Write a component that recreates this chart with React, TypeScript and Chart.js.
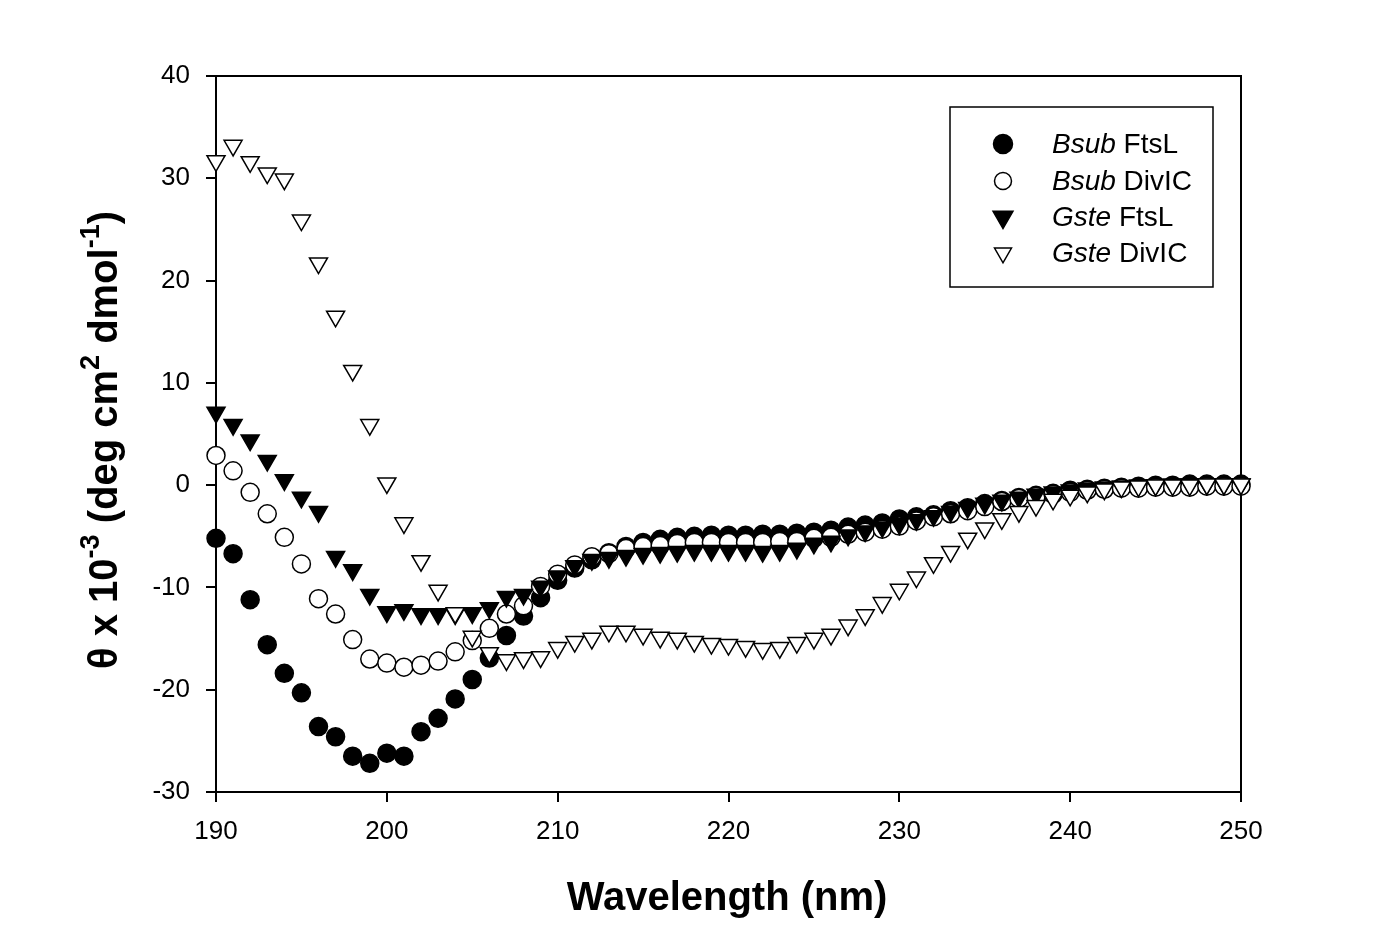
import { useEffect, useRef } from 'react';
import { Chart, registerables } from 'chart.js';

Chart.register(...registerables);

const FONT = '"Liberation Sans", Arial, sans-serif';

// wavelength (nm)
const wavelength = [
  190, 191, 192, 193, 194, 195, 196, 197, 198, 199,
  200, 201, 202, 203, 204, 205, 206, 207, 208, 209,
  210, 211, 212, 213, 214, 215, 216, 217, 218, 219,
  220, 221, 222, 223, 224, 225, 226, 227, 228, 229,
  230, 231, 232, 233, 234, 235, 236, 237, 238, 239,
  240, 241, 242, 243, 244, 245, 246, 247, 248, 249,
  250,
];

// theta x 10^-3 values, one per wavelength
const bsubFtsL = [
  -5.2, -6.7, -11.2, -15.6, -18.4, -20.3, -23.6, -24.6, -26.5, -27.2,
  -26.2, -26.5, -24.1, -22.8, -20.9, -19.0, -16.9, -14.7, -12.8, -11.0,
  -9.3, -8.1, -7.3, -6.6, -6.0, -5.6, -5.3, -5.1, -5.0, -4.9,
  -4.9, -4.9, -4.8, -4.8, -4.7, -4.6, -4.4, -4.1, -3.9, -3.7,
  -3.3, -3.1, -2.9, -2.5, -2.2, -1.8, -1.5, -1.2, -1.0, -0.8,
  -0.5, -0.4, -0.3, -0.2, -0.1, 0.0, 0.0, 0.1, 0.1, 0.1,
  0.1,
];

const bsubDivIC = [
  2.9, 1.4, -0.7, -2.8, -5.1, -7.7, -11.1, -12.6, -15.1, -17.0,
  -17.4, -17.8, -17.6, -17.2, -16.3, -15.2, -14.0, -12.6, -11.8, -9.9,
  -8.7, -7.8, -7.0, -6.7, -6.2, -6.0, -5.9, -5.7, -5.6, -5.6,
  -5.6, -5.6, -5.6, -5.5, -5.5, -5.2, -5.1, -4.8, -4.6, -4.3,
  -4.0, -3.5, -3.1, -2.8, -2.5, -2.1, -1.6, -1.3, -1.1, -0.9,
  -0.7, -0.5, -0.4, -0.3, -0.3, -0.2, -0.2, -0.2, -0.1, -0.1,
  -0.1,
];

const gsteFtsL = [
  7.1, 5.9, 4.4, 2.4, 0.5, -1.2, -2.6, -7.0, -8.3, -10.7,
  -12.4, -12.2, -12.6, -12.6, -12.6, -12.5, -12.0, -10.9, -10.7, -9.9,
  -8.9, -7.9, -7.3, -7.1, -6.9, -6.7, -6.6, -6.5, -6.4, -6.4,
  -6.4, -6.4, -6.5, -6.4, -6.2, -5.7, -5.5, -4.9, -4.5, -4.1,
  -3.8, -3.4, -3.0, -2.6, -2.2, -1.8, -1.5, -1.2, -0.9, -0.7,
  -0.5, -0.3, -0.2, -0.1, 0.0, 0.0, 0.1, 0.1, 0.1, 0.1,
  0.1,
];

const gsteDivIC = [
  31.7, 33.2, 31.6, 30.5, 29.9, 25.9, 21.7, 16.5, 11.2, 5.9,
  0.2, -3.7, -7.4, -10.3, -12.5, -14.8, -16.4, -17.1, -16.9, -16.8,
  -15.9, -15.3, -15.0, -14.3, -14.3, -14.6, -14.9, -15.0, -15.3, -15.5,
  -15.6, -15.8, -16.0, -15.9, -15.4, -15.0, -14.6, -13.7, -12.7, -11.5,
  -10.2, -9.0, -7.6, -6.5, -5.2, -4.2, -3.3, -2.6, -2.0, -1.4,
  -1.0, -0.7, -0.4, -0.2, -0.1, 0.0, 0.0, 0.0, 0.1, 0.1,
  0.1,
];

const seriesNames = [
  ['Bsub', ' FtsL'],
  ['Bsub', ' DivIC'],
  ['Gste', ' FtsL'],
  ['Gste', ' DivIC'],
];

const toPoints = (values: number[]) => values.map((v, i) => ({ x: wavelength[i], y: v }));

function marker(ctx: CanvasRenderingContext2D, kind: number, x: number, y: number, r: number) {
  ctx.beginPath();
  if (kind < 2) {
    ctx.arc(x, y, r, 0, Math.PI * 2);
  } else {
    // downward triangle
    ctx.moveTo(x - r * 0.866, y - r * 0.5);
    ctx.lineTo(x + r * 0.866, y - r * 0.5);
    ctx.lineTo(x, y + r);
    ctx.closePath();
  }
  ctx.fillStyle = kind % 2 === 0 ? '#000' : '#fff';
  ctx.fill();
  ctx.lineWidth = 1.5;
  ctx.strokeStyle = '#000';
  ctx.stroke();
}

const framePlugin = {
  id: 'frame',
  beforeDatasetsDraw(chart: any) {
    const { ctx, chartArea: a } = chart;
    ctx.save();
    ctx.strokeStyle = '#000';
    ctx.lineWidth = 2;
    ctx.strokeRect(a.left, a.top, a.right - a.left, a.bottom - a.top);
    ctx.restore();
  },
  afterDraw(chart: any) {
    const ctx: CanvasRenderingContext2D = chart.ctx;
    ctx.save();
    ctx.fillStyle = '#000';

    // x title
    ctx.font = `bold 40px ${FONT}`;
    ctx.textAlign = 'center';
    ctx.textBaseline = 'alphabetic';
    ctx.fillText('Wavelength (nm)', 727, 910);

    // y title with superscripts
    const segs: [string, boolean][] = [
      ['θ x 10', false], ['-3', true], [' (deg cm', false], ['2', true],
      [' dmol', false], ['-1', true], [')', false],
    ];
    const mainFont = `bold 40px ${FONT}`;
    const supFont = `bold 27px ${FONT}`;
    let total = 0;
    segs.forEach(([t, sup]) => {
      ctx.font = sup ? supFont : mainFont;
      total += ctx.measureText(t).width;
    });
    ctx.translate(117, 440);
    ctx.rotate(-Math.PI / 2);
    ctx.textAlign = 'left';
    let cx = -total / 2;
    segs.forEach(([t, sup]) => {
      ctx.font = sup ? supFont : mainFont;
      ctx.fillText(t, cx, sup ? -18 : 0);
      cx += ctx.measureText(t).width;
    });
    ctx.setTransform(1, 0, 0, 1, 0, 0);
    ctx.restore();

    // legend
    ctx.save();
    ctx.strokeStyle = '#000';
    ctx.lineWidth = 1.5;
    ctx.strokeRect(950, 107, 263, 180);
    const rowY = [144, 181, 217, 253];
    const sizes = [9.5, 8.5, 11.5, 9.8];
    seriesNames.forEach(([it, rest], i) => {
      marker(ctx, i, 1003, rowY[i], sizes[i]);
      ctx.fillStyle = '#000';
      ctx.textAlign = 'left';
      ctx.textBaseline = 'alphabetic';
      ctx.font = `italic 28px ${FONT}`;
      ctx.fillText(it, 1052, rowY[i] + 9);
      const w = ctx.measureText(it).width;
      ctx.font = `28px ${FONT}`;
      ctx.fillText(rest, 1052 + w, rowY[i] + 9);
    });
    ctx.restore();
  },
};

const CDChart = () => {
  const canvasRef = useRef<HTMLCanvasElement>(null);

  useEffect(() => {
    if (!canvasRef.current) return;

    const circle = { pointStyle: 'circle', pointRadius: 9, pointBorderWidth: 1.5, pointBorderColor: '#000' };
    const tri = { pointStyle: 'triangle', rotation: 180, pointRotation: 180, pointRadius: 10.4, pointBorderWidth: 1.5, pointBorderColor: '#000' };

    const chart = new Chart(canvasRef.current, {
      type: 'scatter',
      data: {
        datasets: [
          { label: 'Bsub FtsL', data: toPoints(bsubFtsL), ...circle, pointBackgroundColor: '#000', order: 3, clip: false } as any,
          { label: 'Bsub DivIC', data: toPoints(bsubDivIC), ...circle, pointBackgroundColor: '#fff', order: 2, clip: false } as any,
          { label: 'Gste FtsL', data: toPoints(gsteFtsL), ...tri, pointBackgroundColor: '#000', order: 1, clip: false } as any,
          { label: 'Gste DivIC', data: toPoints(gsteDivIC), ...tri, pointBackgroundColor: '#fff', order: 0, clip: false } as any,
        ],
      },
      options: {
        responsive: false,
        animation: false,
        events: [],
        layout: { padding: { left: 0, top: 76, right: 159, bottom: 0 } },
        plugins: {
          legend: { display: false },
          tooltip: { enabled: false },
        },
        scales: {
          x: {
            type: 'linear',
            min: 190,
            max: 250,
            afterFit: (s: any) => { s.height = 157; },
            ticks: { stepSize: 10, color: '#000', padding: 14, font: { family: FONT, size: 26 } },
            grid: { drawOnChartArea: false, drawTicks: true, tickLength: 10, color: '#000', lineWidth: 2 },
            border: { display: true, color: '#000', width: 2 },
          },
          y: {
            type: 'linear',
            min: -30,
            max: 40,
            afterFit: (s: any) => { s.width = 216; },
            ticks: { stepSize: 10, color: '#000', padding: 16, font: { family: FONT, size: 26 } },
            grid: { drawOnChartArea: false, drawTicks: true, tickLength: 10, color: '#000', lineWidth: 2 },
            border: { display: true, color: '#000', width: 2 },
          },
        },
      },
      plugins: [framePlugin],
    });

    return () => {
      chart.destroy();
    };
  }, []);

  return (
    <div style={{ position: 'absolute', left: 0, top: 0, width: 1400, height: 949, background: '#fff' }}>
      <canvas ref={canvasRef} width={1400} height={949} style={{ display: 'block', width: 1400, height: 949 }}></canvas>
    </div>
  );
};

export default function App() {
  return <CDChart />;
}
